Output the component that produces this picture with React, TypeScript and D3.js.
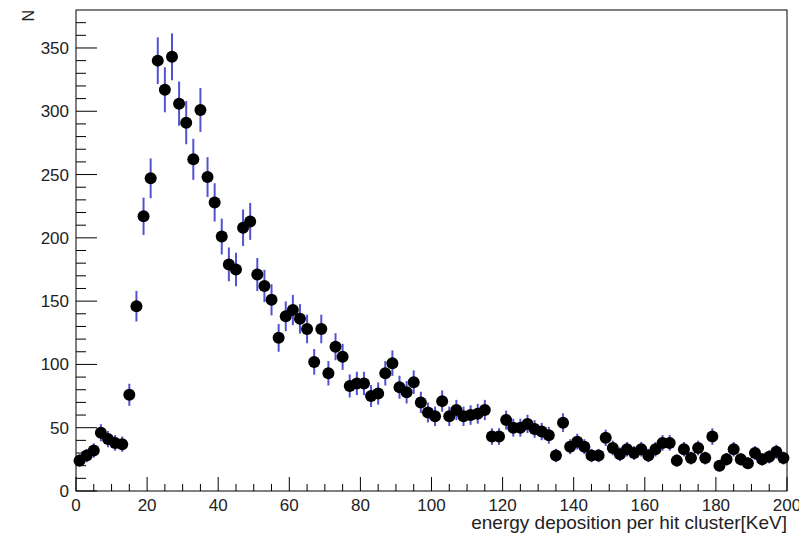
import React, { useRef, useEffect } from "react";
import * as d3 from "d3";

// histogram: 100 bins of 2 keV from 0 to 200
const binRange = [0, 200];
const binWidth = 2;
const binCounts = [
  24, 28, 32, 46, 41, 38, 37, 76, 146, 217,
  247, 340, 317, 343, 306, 291, 262, 301, 248, 228,
  201, 179, 175, 208, 213, 171, 162, 151, 121, 138,
  143, 136, 128, 102, 128, 93, 114, 106, 83, 85,
  85, 75, 77, 93, 101, 82, 78, 86, 70, 62,
  59, 71, 59, 64, 59, 60, 61, 64, 43, 43,
  56, 50, 50, 53, 49, 47, 44, 28, 54, 35,
  39, 35, 28, 28, 42, 34, 29, 33, 30, 33,
  28, 33, 38, 38, 24, 33, 26, 34, 26, 43,
  20, 25, 33, 25, 22, 30, 25, 27, 31, 26,
];
const xTicks = [0, 20, 40, 60, 80, 100, 120, 140, 160, 180, 200];
const yTicks = [0, 50, 100, 150, 200, 250, 300, 350];
const xTitle = "energy deposition per hit cluster[KeV]";
const yTitle = "N";

const App = () => {
  const ref = useRef<SVGSVGElement>(null);

  useEffect(() => {
    const width = 799;
    const height = 537;
    const left = 76;
    const right = 787;
    const top = 10;
    const bottom = 491;
    const font = "'Liberation Sans', Arial, Helvetica, sans-serif";

    const svg = d3.select(ref.current).attr("width", width).attr("height", height);
    svg.selectAll("*").remove();

    const x = d3.scaleLinear().domain(binRange).range([left, right]);
    const y = d3.scaleLinear().domain([0, 380]).range([bottom, top]);

    // frame
    svg
      .append("rect")
      .attr("x", left)
      .attr("y", top)
      .attr("width", right - left)
      .attr("height", bottom - top)
      .attr("fill", "white")
      .attr("stroke", "black")
      .attr("stroke-width", 1);

    // x axis ticks (inside, pointing up)
    const xMinor = d3.range(0, 201, 5);
    svg
      .append("g")
      .selectAll("line")
      .data(xMinor)
      .enter()
      .append("line")
      .attr("x1", (d) => x(d))
      .attr("x2", (d) => x(d))
      .attr("y1", bottom)
      .attr("y2", (d) => (d % 20 === 0 ? bottom - 14 : bottom - 7))
      .attr("stroke", "black")
      .attr("stroke-width", 1);

    svg
      .append("g")
      .selectAll("text")
      .data(xTicks)
      .enter()
      .append("text")
      .attr("x", (d) => x(d))
      .attr("y", bottom + 20)
      .attr("text-anchor", "middle")
      .attr("font-size", "17px")
      .style("font-family", font)
      .attr("fill", "#222")
      .text((d) => d);

    // y axis ticks (inside, pointing right)
    const yMinor = d3.range(0, 380, 10);
    svg
      .append("g")
      .selectAll("line")
      .data(yMinor)
      .enter()
      .append("line")
      .attr("x1", left)
      .attr("x2", (d) => (d % 50 === 0 ? left + 21 : left + 10))
      .attr("y1", (d) => y(d))
      .attr("y2", (d) => y(d))
      .attr("stroke", "black")
      .attr("stroke-width", 1);

    svg
      .append("g")
      .selectAll("text")
      .data(yTicks)
      .enter()
      .append("text")
      .attr("x", left - 7)
      .attr("y", (d) => y(d) + 6)
      .attr("text-anchor", "end")
      .attr("font-size", "17px")
      .style("font-family", font)
      .attr("fill", "#222")
      .text((d) => d);

    // titles
    svg
      .append("text")
      .attr("x", right)
      .attr("y", 529)
      .attr("text-anchor", "end")
      .attr("font-size", "19px")
      .style("font-family", font)
      .attr("fill", "#222")
      .text(xTitle);

    svg
      .append("text")
      .attr("transform", `translate(34,${top}) rotate(-90)`)
      .attr("text-anchor", "end")
      .attr("font-size", "16px")
      .style("font-family", font)
      .attr("fill", "#222")
      .text(yTitle);

    // error bars + markers
    const bins = binCounts.map((n, i) => ({
      center: binRange[0] + (i + 0.5) * binWidth,
      n,
      err: Math.sqrt(n),
    }));

    svg
      .append("g")
      .selectAll("line")
      .data(bins)
      .enter()
      .append("line")
      .attr("x1", (d) => x(d.center))
      .attr("x2", (d) => x(d.center))
      .attr("y1", (d) => y(d.n - d.err))
      .attr("y2", (d) => y(d.n + d.err))
      .attr("stroke", "#5252d4")
      .attr("stroke-width", 2);

    svg
      .append("g")
      .selectAll("circle")
      .data(bins)
      .enter()
      .append("circle")
      .attr("cx", (d) => x(d.center))
      .attr("cy", (d) => y(d.n))
      .attr("r", 6)
      .attr("fill", "black");
  }, []);

  return (
    <svg
      ref={ref}
      style={{ position: "absolute", left: 0, top: 0, background: "white" }}
    ></svg>
  );
};

export default App;
